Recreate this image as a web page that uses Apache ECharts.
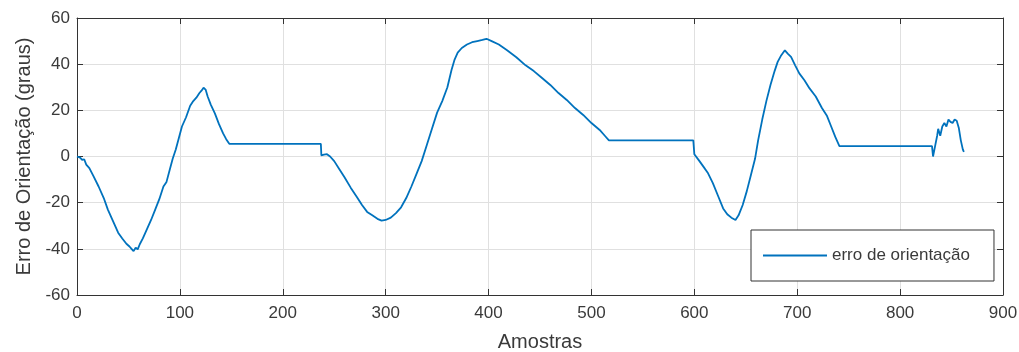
<!DOCTYPE html>
<html>
<head>
<meta charset="utf-8">
<script src="https://cdn.jsdelivr.net/npm/echarts@6/dist/echarts.min.js"></script>
<style>html,body{margin:0;padding:0;background:#fff}#c{width:1019px;height:352px}</style>
</head>
<body>
<div id="c"></div>
<script>
var seriesName = 'erro de orientação';
var xTitle = 'Amostras';
var yTitle = 'Erro de Orientação (graus)';
var sampleX = [0,3,5,7,9,12,16,21,26,30,35,40,44,48,51,53,55,57,59,61,64,68,72,76,80,84,87,90,93,96,99,102,106,110,113,116,119,121,123,125,127,130,134,138,142,145,148,
  237,237.5,240,243,246,250,255,260,266,272,277,282,287,292,296,300,305,310,315,320,325,330,335,340,345,350,355,360,364,367,370,374,379,384,389,394,398,403,410,418,427,436,444,452,460,468,476,484,492,500,508,513,517,
  599,600,605,609,613,618,623,628,632,636,640,643,647,651,655,659,662,666,670,674,678,681,684,688,691,694,698,702,707,712,718,724,729,733,737,741,
  831,832,834,836,837,839,841,843,845,847,849,851,853,855,857,859,861,862];
var errorDeg = [0,-0.5,-1.5,-1.2,-3.5,-5,-8.5,-13,-18,-23,-28,-33,-35.5,-37.8,-39,-40,-41,-39.5,-40.2,-38,-35.5,-31.5,-27.5,-23,-18.5,-13,-11,-6,-1,3,8,13,17,22,24,25.5,27.5,28.5,29.8,29,26,22.5,18.7,14,10,7.5,5.5,
  5.5,0.5,0.8,1,0,-2,-5.5,-9,-13.5,-17.5,-21,-24,-25.5,-27,-27.8,-27.5,-26.5,-24.5,-22,-18,-13,-7.5,-2,5,12,19,24,30,37.5,42,45,47,48.5,49.5,50,50.5,51,50,48.5,46,43,39.5,37,34,31,27.5,24.5,21,18,14.5,11.5,9,7,
  7,1,-2,-4.5,-7,-11.5,-17,-22.5,-25,-26.5,-27.5,-25.5,-21,-15,-8,-1,7,16,24,31,37,41,43.5,46,44.5,43.2,39.5,36,33,29.5,26,21,17.5,13,8.5,4.5,
  4.5,0,4.5,9,12,9,13,14.5,13,16,15,14.5,16,15.5,12.5,7,3,2];
var xTicks = {min: 0, max: 900, interval: 100};
var yTicks = {min: -60, max: 60, interval: 20};

var points = sampleX.map(function (x, i) { return [x, errorDeg[i]]; });
var FONT = 'Liberation Sans, Arial, Helvetica, sans-serif';
var AX = '#333333';
var TXT = '#3a3a3a';
var GRID = '#e0e0e0';
var BLUE = '#0072BD';

function baseAxis(extra) {
  var o = {
    type: 'value',
    axisLine: {show: true, onZero: false, lineStyle: {color: AX, width: 1}},
    axisTick: {show: true, inside: true, length: 6, lineStyle: {color: AX}},
    splitLine: {show: false},
    axisLabel: {show: false}
  };
  for (var k in extra) o[k] = extra[k];
  return o;
}

var chart = echarts.init(document.getElementById('c'), null, {renderer: 'canvas'});
chart.setOption({
  animation: false,
  backgroundColor: '#ffffff',
  grid: {left: 77, right: 16, top: 18, bottom: 57, containLabel: false, outerBoundsMode: 'none'},
  legend: {
    show: true,
    data: [{name: seriesName, icon: 'rect'}],
    left: 751, top: 230,
    orient: 'horizontal',
    itemWidth: 64, itemHeight: 2, itemGap: 6,
    padding: [17, 24, 17, 12],
    borderColor: '#333', borderWidth: 1, backgroundColor: '#fff',
    textStyle: {fontFamily: FONT, fontSize: 17, color: TXT},
    itemStyle: {color: BLUE}
  },
  xAxis: [
    baseAxis({
      position: 'bottom', min: xTicks.min, max: xTicks.max, interval: xTicks.interval,
      axisLabel: {show: true, margin: 10, fontFamily: FONT, fontSize: 17, color: TXT},
      splitLine: {show: true, lineStyle: {color: GRID, width: 1}},
      name: xTitle, nameLocation: 'middle', nameGap: 37,
      nameTextStyle: {fontFamily: FONT, fontSize: 20, color: TXT}
    }),
    baseAxis({position: 'top', min: xTicks.min, max: xTicks.max, interval: xTicks.interval})
  ],
  yAxis: [
    baseAxis({
      position: 'left', min: yTicks.min, max: yTicks.max, interval: yTicks.interval,
      axisLabel: {show: true, margin: 7, fontFamily: FONT, fontSize: 17, color: TXT},
      splitLine: {show: true, lineStyle: {color: GRID, width: 1}},
      name: yTitle, nameLocation: 'middle', nameGap: 42,
      nameTextStyle: {fontFamily: FONT, fontSize: 20, color: TXT}
    }),
    baseAxis({position: 'right', min: yTicks.min, max: yTicks.max, interval: yTicks.interval})
  ],
  series: [{
    name: seriesName,
    type: 'line',
    xAxisIndex: 0, yAxisIndex: 0,
    data: points,
    showSymbol: false,
    symbol: 'none',
    lineStyle: {color: BLUE, width: 1.8},
    itemStyle: {color: BLUE},
    z: 3
  }]
});
</script>
</body>
</html>
